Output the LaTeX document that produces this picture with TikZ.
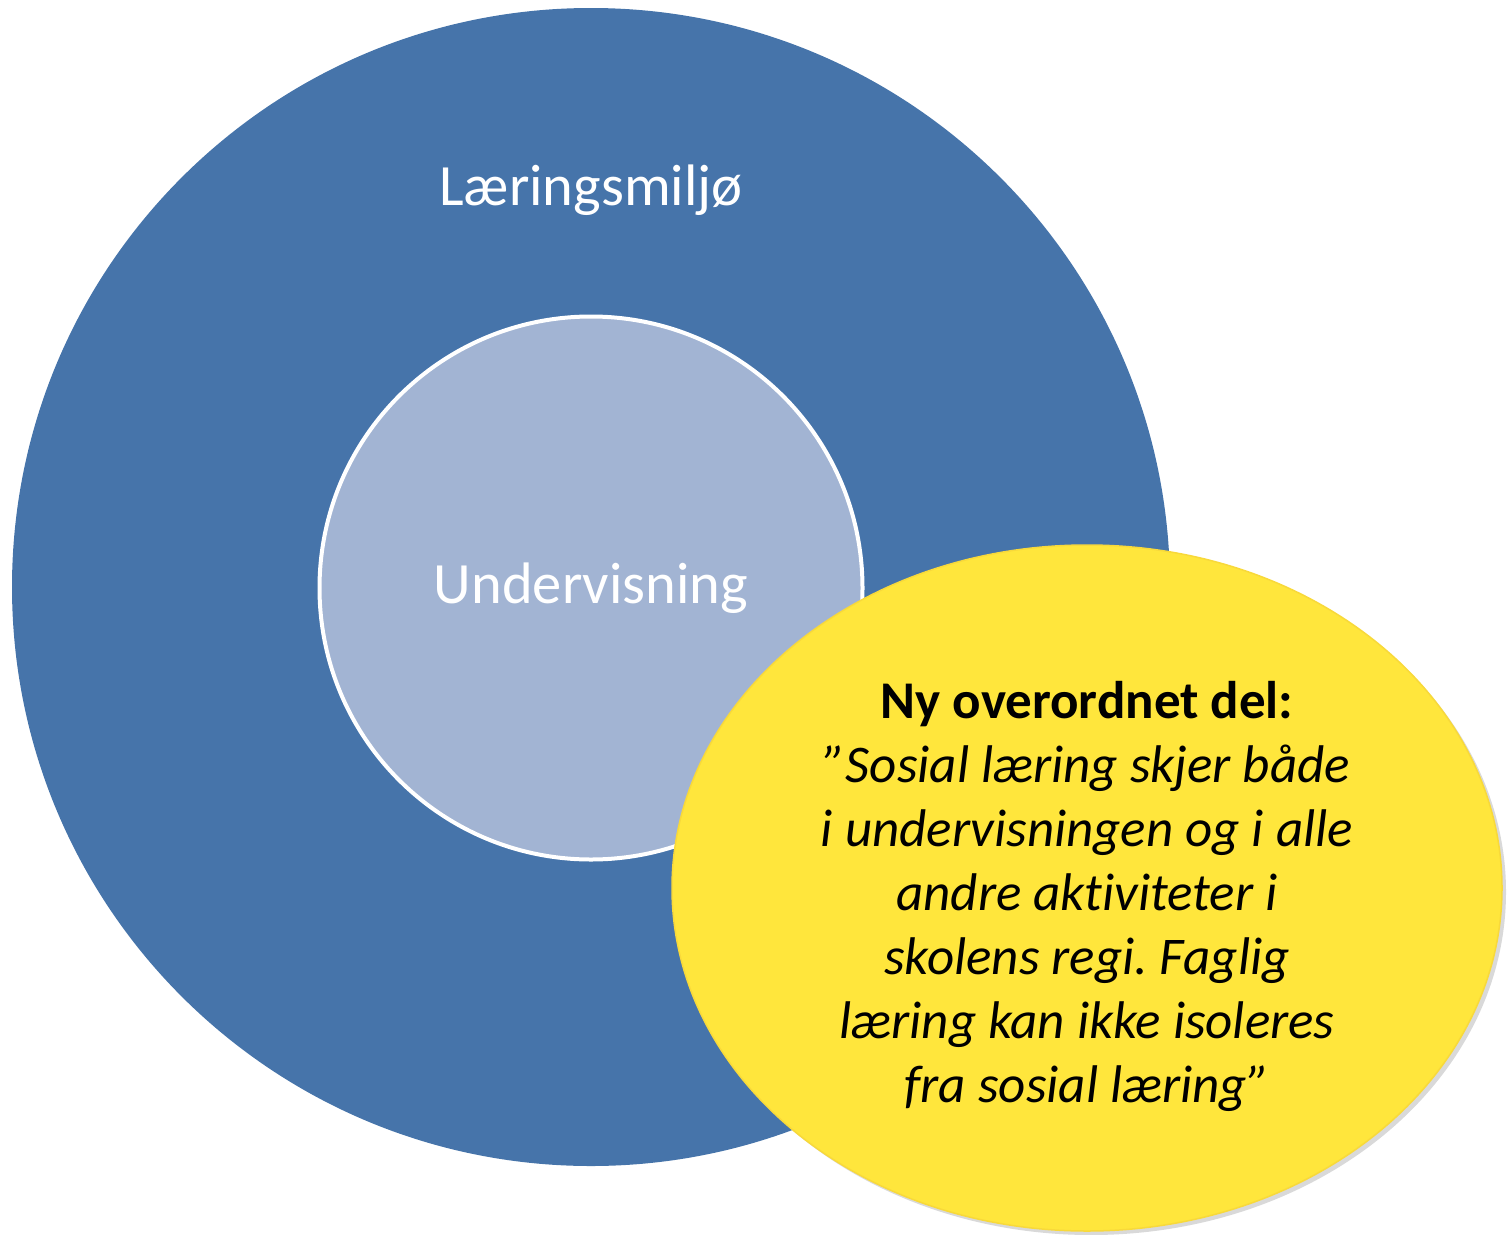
\documentclass[tikz,border=0pt]{standalone}
\usepackage{fontspec}
\setmainfont{Carlito}[Ligatures=NoCommon]
\frenchspacing
\usetikzlibrary{shadows,shapes.geometric}
\definecolor{outerblue}{HTML}{4674AA}
\definecolor{innerblue}{HTML}{A2B4D3}
\definecolor{yellowfill}{HTML}{FFE63C}
\definecolor{yellowline}{HTML}{F8D93A}
\tikzset{
  outercircle/.style={circle, fill=outerblue, draw=none, minimum size=1158pt, inner sep=0pt},
  innercircle/.style={circle, fill=innerblue, draw=white, line width=4pt, minimum size=543pt, inner sep=0pt},
  quoteellipse/.style={ellipse, fill=yellowfill, draw=yellowline, line width=1.5pt, minimum width=830pt, minimum height=686pt, inner sep=0pt,
    drop shadow={shadow xshift=4pt, shadow yshift=-4pt, opacity=0.25, fill=black!60}},
  whitelabel/.style={text=white, font=\fontsize{58.5}{64}\selectfont},
  quotetext/.style={text=black, align=center, font=\fontsize{53}{64}\selectfont}
}
\begin{document}
\begin{tikzpicture}[x=1pt, y=-1pt]
\useasboundingbox (0,0) rectangle (1509,1234);
\node[outercircle] (outer) at (591,587) {};
\node[innercircle] (inner) at (591,588) {};
\node[whitelabel] (lm) at (591,190) {Læringsmiljø};
\node[whitelabel] (und) at (591,588) {Undervisning};
\node[quoteellipse] (ell) at (1087,888) {};
\node[quotetext] (qt) at (1087,896) {\textbf{Ny overordnet del:}\\
\textit{”Sosial læring skjer både}\\
\textit{i undervisningen og i alle}\\
\textit{andre aktiviteter i}\\
\textit{skolens regi. Faglig}\\
\textit{læring kan ikke isoleres}\\
\textit{fra sosial læring”}};
\end{tikzpicture}
\end{document}
